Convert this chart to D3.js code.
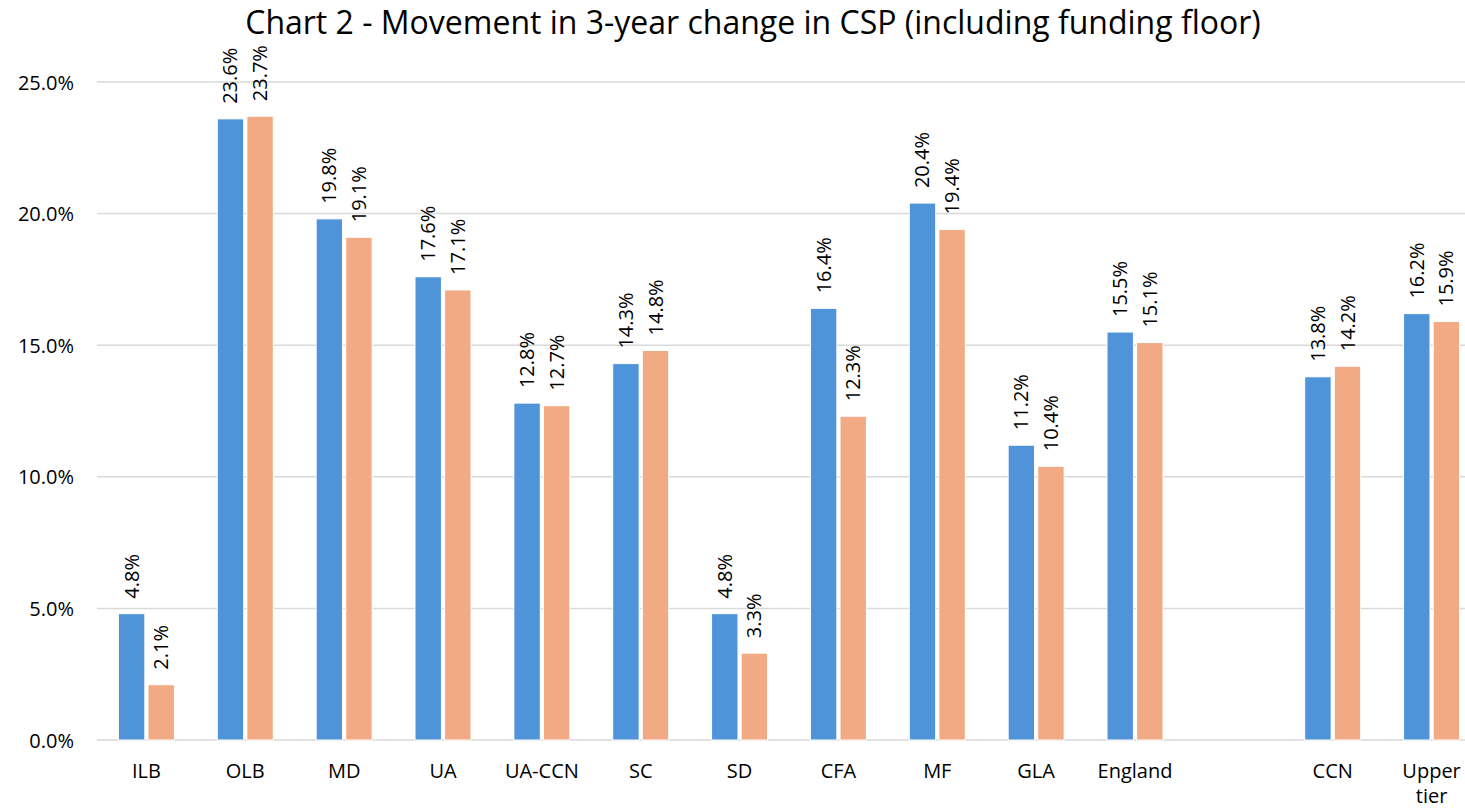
<!DOCTYPE html>
<html>
<head>
<meta charset="utf-8">
<script src="https://cdn.jsdelivr.net/npm/d3@7"></script>
<style>
  body { margin: 0; background: #fff; }
  text { font-family: "Open Sans", sans-serif; fill: #000; }
</style>
</head>
<body>
<svg width="1465" height="811"></svg>
<script>
var categories = ["ILB", "OLB", "MD", "UA", "UA-CCN", "SC", "SD", "CFA", "MF", "GLA", "England", "", "CCN", "Upper tier"];
var seriesA = [4.8, 23.6, 19.8, 17.6, 12.8, 14.3, 4.8, 16.4, 20.4, 11.2, 15.5, null, 13.8, 16.2];
var seriesB = [2.1, 23.7, 19.1, 17.1, 12.7, 14.8, 3.3, 12.3, 19.4, 10.4, 15.1, null, 14.2, 15.9];
var yTicks = [0, 5, 10, 15, 20, 25];

var svg = d3.select("svg");
var plotLeft = 97, plotRight = 1481, plotTop = 82, plotBottom = 740;

svg.append("text")
   .attr("x", 753)
   .attr("y", 34)
   .attr("text-anchor", "middle")
   .attr("font-size", "32px")
   .text("Chart 2 - Movement in 3-year change in CSP (including funding floor)");

var x = d3.scaleBand().domain(d3.range(categories.length)).range([plotLeft, plotRight]).padding(0);
var sub = d3.scaleBand().domain([0, 1]).range([-28, 28]).paddingInner(6 / 56);
var y = d3.scaleLinear().domain([0, 25]).range([plotBottom, plotTop]);

// gridlines
svg.append("g")
   .selectAll("line")
   .data(yTicks)
   .enter().append("line")
   .attr("x1", plotLeft)
   .attr("x2", 1465)
   .attr("y1", function(d) { return y(d); })
   .attr("y2", function(d) { return y(d); })
   .attr("stroke", "#d9d9d9")
   .attr("stroke-width", 1.5);

// y axis labels
svg.append("g")
   .attr("transform", "translate(" + plotLeft + ",0)")
   .call(d3.axisLeft(y).tickValues(yTicks).tickSize(0).tickPadding(23)
      .tickFormat(function(d) { return d.toFixed(1) + "%"; }))
   .call(function(g) { g.select(".domain").remove(); })
   .selectAll("text")
   .attr("font-size", "20px")
   .attr("font-family", "Open Sans, sans-serif")
   .attr("fill", "#000")
   .attr("dy", "0.35em");

var series = [
  { values: seriesA, color: "#4f94d9" },
  { values: seriesB, color: "#f2aa84" }
];

series.forEach(function(s, si) {
  var data = s.values.map(function(v, i) { return { i: i, v: v }; }).filter(function(d) { return d.v !== null; });

  svg.append("g").selectAll("rect")
     .data(data)
     .enter().append("rect")
     .attr("x", function(d) { return x(d.i) + x.bandwidth() / 2 + sub(si); })
     .attr("y", function(d) { return y(d.v); })
     .attr("width", sub.bandwidth())
     .attr("height", function(d) { return plotBottom - y(d.v); })
     .attr("fill", s.color)
     .attr("stroke", "#fff")
     .attr("stroke-width", 1);

  svg.append("g").selectAll("text")
     .data(data)
     .enter().append("text")
     .attr("transform", function(d) {
        var cx = x(d.i) + x.bandwidth() / 2 + sub(si) + sub.bandwidth() / 2;
        return "translate(" + cx + "," + (y(d.v) - 15) + ") rotate(-90)";
     })
     .attr("dy", "0.35em")
     .attr("font-size", "20px")
     .text(function(d) { return d.v.toFixed(1) + "%"; });
});

// x labels
var xl = svg.append("g").selectAll("text")
   .data(categories)
   .enter().append("text")
   .attr("x", function(d, i) { return x(i) + x.bandwidth() / 2; })
   .attr("y", 778)
   .attr("text-anchor", "middle")
   .attr("font-size", "20px");

xl.each(function(d) {
  var words = d.split(" ");
  var t = d3.select(this);
  if (words.length > 1) {
    t.append("tspan").attr("x", t.attr("x")).attr("dy", 0).text(words[0]);
    t.append("tspan").attr("x", t.attr("x")).attr("dy", 25).text(words[1]);
  } else {
    t.text(d);
  }
});
</script>
</body>
</html>
